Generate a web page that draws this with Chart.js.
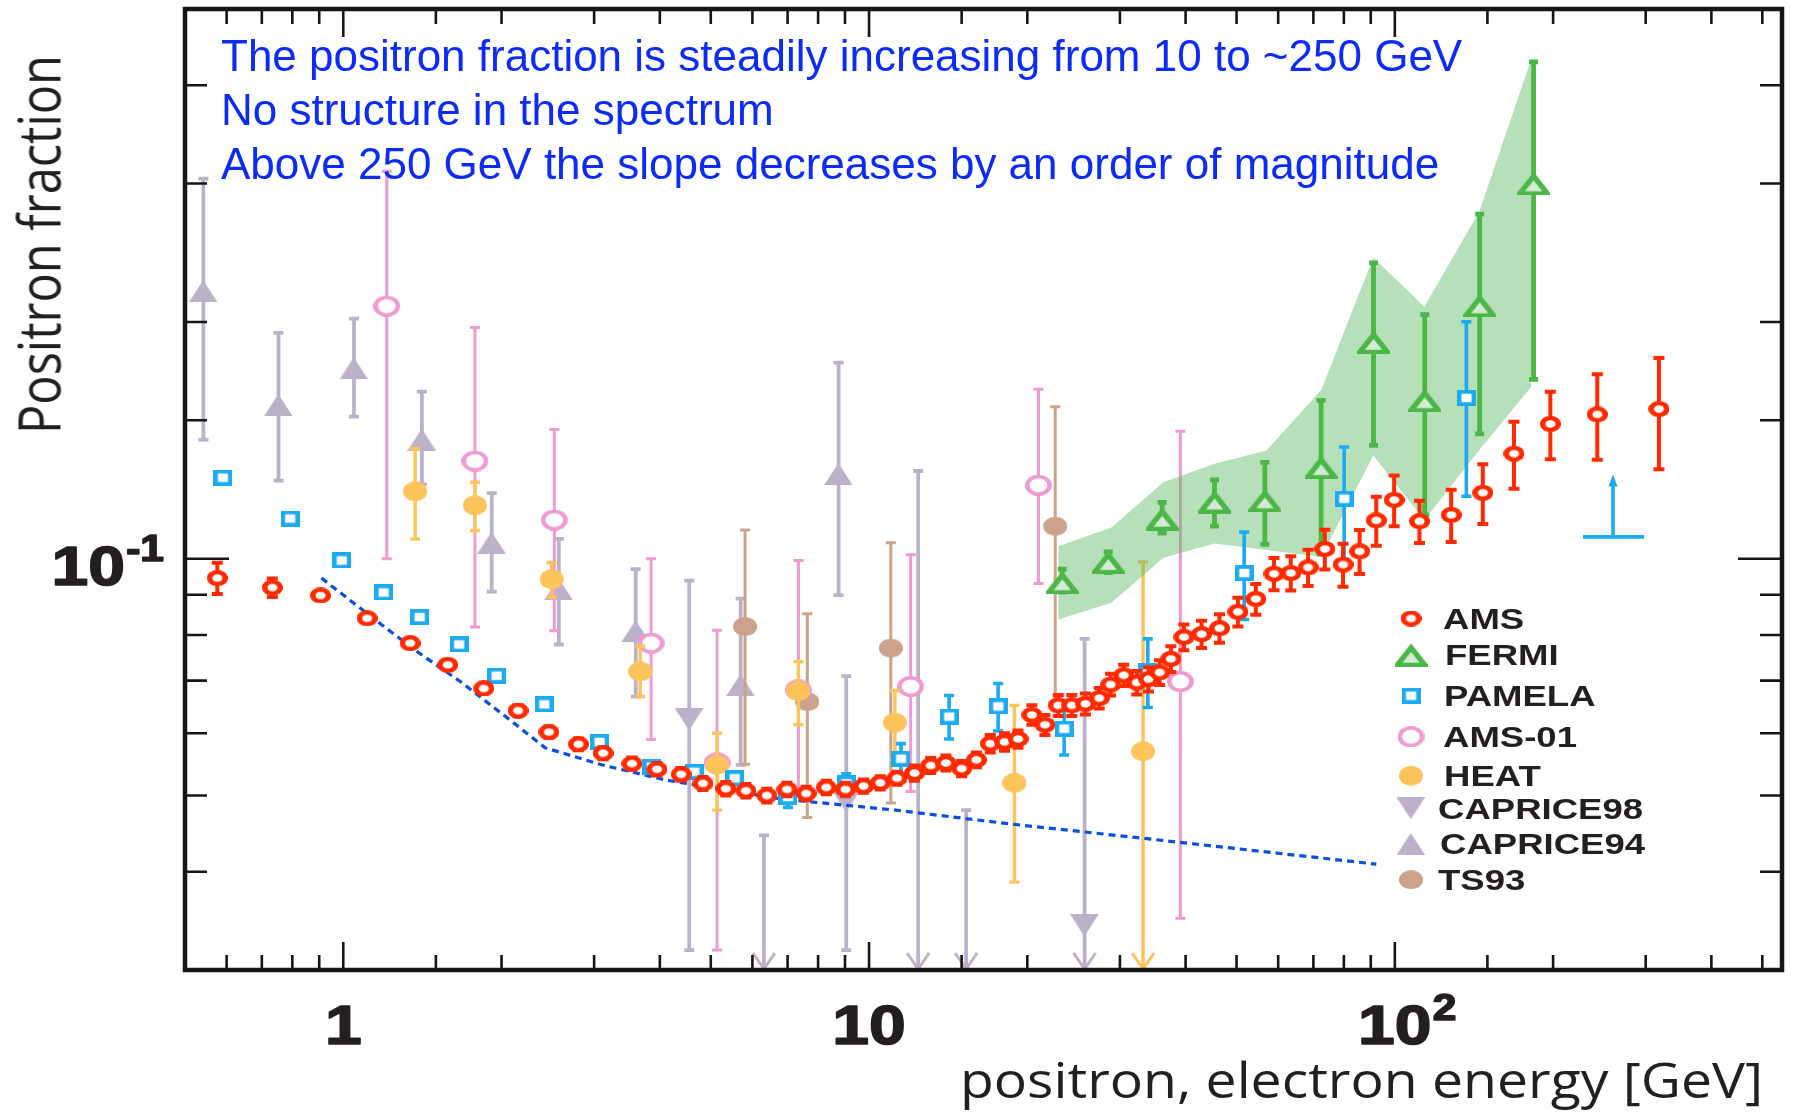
<!DOCTYPE html>
<html>
<head>
<meta charset="utf-8">
<title>Positron fraction</title>
<script src="https://cdn.jsdelivr.net/npm/chart.js@4.4.1/dist/chart.umd.min.js"></script>
<style>
  html, body { margin: 0; padding: 0; background: #fff; }
  #wrap { position: relative; width: 1793px; height: 1114px; overflow: hidden; }
  #chart { position: absolute; left: 0; top: 0; }
  .note { position: absolute; left: 221px; font-family: "Liberation Sans", Arial, sans-serif; font-size: 44px; line-height: 44px; color: #0c2cf6; white-space: nowrap; }
  .axis-title { position: absolute; left: 0; top: 0; font-family: "Open Sans", sans-serif; color: #231f20; white-space: nowrap; line-height: 1; transform-origin: 0 0; }
</style>
</head>
<body>
<div id="wrap">
  <canvas id="chart" width="1793" height="1114"></canvas>
  <div class="note" style="top:34px">The positron fraction is steadily increasing from 10 to ~250 GeV</div>
  <div class="note" style="top:88px">No structure in the spectrum</div>
  <div class="note" style="top:142px">Above 250 GeV the slope decreases by an order of magnitude</div>
  <div id="ytitle" class="axis-title" style="font-size:58px">Positron fraction</div>
  <div id="xtitle" class="axis-title" style="font-size:50px">positron, electron energy [GeV]</div>
</div>
<script>
// energies in GeV, values are the positron fraction
const amsE = [0.576, 0.733, 0.905, 1.11, 1.34, 1.58, 1.85, 2.15, 2.46, 2.80,
              3.12, 3.54, 3.95, 4.39, 4.83, 5.34, 5.83, 6.39, 6.98, 7.59,
              8.29, 9.02, 9.76, 10.5, 11.3, 12.2, 13.1, 14.0, 15.0, 16.0,
              17.0, 18.1, 19.2, 20.4, 21.6, 22.9, 24.3, 25.8, 27.4, 28.8,
              30.5, 32.3, 34.0, 35.7, 37.5, 39.7, 42.9, 46.4, 50.3, 54.4,
              58.9, 63.4, 68.4, 73.6, 79.7, 85.7, 92.2, 99.7, 111.4, 128,
              147, 168.5, 197.6, 242.7, 317.9];
const amsV = [0.0945, 0.0919, 0.0898, 0.0840, 0.0781, 0.0733, 0.0684, 0.0641, 0.0602, 0.0581,
              0.0566, 0.0549, 0.0540, 0.0532, 0.0518, 0.0510, 0.0507, 0.0500, 0.0509, 0.0503,
              0.0512, 0.0509, 0.0514, 0.0519, 0.0526, 0.0534, 0.0546, 0.0550, 0.0541, 0.0555,
              0.0582, 0.0585, 0.0590, 0.0633, 0.0615, 0.0651, 0.0651, 0.0654, 0.0665, 0.0692,
              0.0711, 0.0696, 0.0703, 0.0717, 0.0746, 0.0795, 0.0802, 0.0816, 0.0856, 0.0889,
              0.0957, 0.0959, 0.0975, 0.1029, 0.0983, 0.1022, 0.1119, 0.1188, 0.1116, 0.1137,
              0.1213, 0.136, 0.1484, 0.1526, 0.155];
const amsErr = [0.0043, 0.0025, 0.0012, 0.001, 0.001, 0.001, 0.001, 0.001, 0.001, 0.001,
                0.001, 0.001, 0.001, 0.001, 0.001, 0.001, 0.001, 0.001, 0.001, 0.001,
                0.001, 0.001, 0.001, 0.001, 0.001, 0.0012, 0.0012, 0.0012, 0.0012, 0.0012,
                0.0015, 0.0015, 0.0015, 0.0018, 0.0018, 0.002, 0.002, 0.002, 0.002, 0.0022,
                0.0022, 0.0024, 0.0025, 0.0026, 0.0028, 0.003, 0.0032, 0.0034, 0.0036, 0.004,
                0.0045, 0.0048, 0.0052, 0.006, 0.0062, 0.0066, 0.008, 0.0088, 0.0069, 0.0087,
                0.0106, 0.0133, 0.0146, 0.019, 0.025];

const fermiE  = [23.3, 28.5, 36.1, 45.4, 56.6, 72.4, 91.1, 114, 145, 183.6];
const fermiV  = [0.0933, 0.0990, 0.1124, 0.1182, 0.1186, 0.1307, 0.1886, 0.159, 0.2099, 0.300];
const fermiLo = [0.0907, 0.0960, 0.1078, 0.110, 0.1043, 0.1014, 0.1394, 0.1137, 0.1441, 0.1691];
const fermiHi = [0.0970, 0.1020, 0.1179, 0.126, 0.1326, 0.159, 0.2378, 0.2044, 0.2743, 0.4284];

const bandE  = [22.9, 28.9, 36.3, 45.4, 57.0, 72.5, 91.0, 113.8, 144.8, 181.8];
const bandHi = [0.1037, 0.1096, 0.1251, 0.1321, 0.1373, 0.1640, 0.2415, 0.2091, 0.2764, 0.432];
const bandLo = [0.0837, 0.0879, 0.1003, 0.1046, 0.1026, 0.1006, 0.1353, 0.112, 0.1375, 0.1654];

const pamelaE = [0.590, 0.792, 0.993, 1.193, 1.397, 1.66, 1.956, 2.41, 3.07, 3.86, 4.65,
                 5.55, 7.01, 9.05, 11.5, 14.2, 17.6, 23.5, 33.9, 51.7, 80.1, 136.8];
const pamelaV = [0.1268, 0.1125, 0.0995, 0.0906, 0.0843, 0.0778, 0.0710, 0.0653, 0.0585, 0.0544, 0.0536,
                 0.0526, 0.0498, 0.0518, 0.0557, 0.0630, 0.0649, 0.0608, 0.0719, 0.0959, 0.1192, 0.1601];
const pamelaErr = [0, 0, 0, 0, 0, 0, 0, 0, 0, 0, 0,
                   0.001, 0.0015, 0.0015, 0.0025, 0.004, 0.0045, 0.0045, 0.0072, 0.0122, 0.0195, 0.04];
// lower limit drawn as an arrow, with its energy bin
const pamelaLimE = [260];
const pamelaLimV = [0.1066];
const pamelaLimTop = [0.128];
const pamelaLimEmin = [228];
const pamelaLimEmax = [298];

const ams01E  = [1.21, 1.78, 2.52, 3.85, 5.14, 7.34, 12.0, 21.0, 39.1];
const ams01V  = [0.2095, 0.1331, 0.112, 0.0781, 0.055, 0.0681, 0.0688, 0.124, 0.0698];
const ams01Lo = [0.100, 0.0819, 0.081, 0.0589, 0.0318, 0.0509, 0.0506, 0.093, 0.0349];
const ams01Hi = [0.311, 0.1968, 0.146, 0.1, 0.0811, 0.0995, 0.1012, 0.1643, 0.1453];

// null low end = bar runs down out of the frame
const heatE  = [1.37, 1.78, 2.49, 3.67, 5.14, 7.34, 11.2, 18.9, 33.2];
const heatV  = [0.1218, 0.1169, 0.0942, 0.0719, 0.0547, 0.0679, 0.0619, 0.0519, 0.0569];
const heatLo = [0.1059, 0.1086, 0.0893, 0.0668, 0.0479, 0.0615, 0.0555, 0.0388, null];
const heatHi = [0.1381, 0.1251, 0.0989, 0.0774, 0.060, 0.074, 0.068, 0.0651, 0.0991];

const c98E  = [4.55, 9.05, 25.7];
const c98V  = [0.0625, 0.0492, 0.0342];
const c98Lo = [0.0318, 0.0318, null];
const c98Hi = [0.0938, 0.0709, 0.0791];
const c98LimE  = [6.31, 12.4, 15.3];
const c98LimHi = [0.0445, 0.1293, 0.0479];

const c94E  = [0.542, 0.753, 1.048, 1.411, 1.916, 2.57, 3.6, 5.70, 8.75];
const c94V  = [0.2189, 0.1568, 0.1746, 0.1417, 0.1048, 0.0915, 0.0809, 0.0691, 0.1281];
const c94Lo = [0.1417, 0.1257, 0.1516, 0.1243, 0.0908, 0.0778, 0.0668, 0.0547, 0.0899];
const c94Hi = [0.3043, 0.1937, 0.202, 0.1631, 0.1212, 0.106, 0.097, 0.089, 0.1776];

const ts93E  = [5.81, 7.63, 11.0, 22.6];
const ts93V  = [0.082, 0.0658, 0.077, 0.11];
const ts93Lo = [0.0548, 0.0469, 0.0489, 0.0655];
const ts93Hi = [0.1088, 0.0851, 0.1048, 0.156];

// blue dashed curve
const secE = [0.909, 1.12, 1.37, 1.67, 2.08, 2.42, 3.10, 4.12, 6.81, 11.25, 18.6, 34.4, 92.2];
const secV = [0.0945, 0.0848, 0.0765, 0.0698, 0.0623, 0.0575, 0.0547, 0.0523, 0.0495, 0.0479, 0.0460, 0.0440, 0.0409];

const xTickVals = [1, 10, 100];
const xTickText = ['1', '10', '10'];
const xTickSup  = ['', '', '2'];
const yTickVals = [0.1];
const yTickText = ['10'];
const yTickSup  = ['-1'];

const pts = (xs, ys) => xs.map((x, i) => ({ x: x, y: ys[i] }));

// point markers are drawn a bit wider than tall, like the original figure
function sprite(shape, size, stretch, lw, stroke, fill) {
    const c = document.createElement('canvas');
    c.width = Math.round(size * stretch);
    c.height = size;
    const g = c.getContext('2d');
    g.scale(stretch, 1);
    g.lineWidth = lw;
    const m = stroke ? lw / 2 : 0;
    const s = size;
    g.beginPath();
    if (shape === 'circle') g.ellipse(s / 2, s / 2, s / 2 - m, s / 2 - m, 0, 0, Math.PI * 2);
    if (shape === 'square') g.rect(m, m, s - 2 * m, s - 2 * m);
    if (shape === 'up') { g.moveTo(s / 2, m * 2.2); g.lineTo(s - m, s - m); g.lineTo(m, s - m); g.closePath(); }
    if (shape === 'down') { g.moveTo(m, m); g.lineTo(s - m, m); g.lineTo(s / 2, s - m * 2.2); g.closePath(); }
    if (fill) { g.fillStyle = fill; g.fill(); }
    if (stroke) { g.strokeStyle = stroke; g.stroke(); }
    return c;
}

const RED = '#ff2a00', GREEN = '#4cb748', BLUE = '#1caaf0', PINK = '#ef9ad0';
const ORANGE = '#fcc45a', GREY = '#bbb2ca', TAN = '#caa38a';

const marks = {
    ams: sprite('circle', 16, 1.32, 4.2, RED, '#fff'),
    fermi: sprite('up', 24, 1.38, 4.2, GREEN, '#d3ecd5'),
    pamela: sprite('square', 16, 1.2, 3.8, BLUE, '#fff'),
    ams01: sprite('circle', 21, 1.28, 3.6, PINK, '#fff'),
    heat: sprite('circle', 20, 1.2, 0, null, ORANGE),
    c98: sprite('down', 22, 1.3, 0, null, GREY),
    c94: sprite('up', 22, 1.3, 0, null, GREY),
    ts93: sprite('circle', 19, 1.27, 0, null, TAN)
};

function chevron(ctx, x, yb, color) {
    ctx.save();
    ctx.strokeStyle = color;
    ctx.lineWidth = 3;
    ctx.beginPath();
    ctx.moveTo(x - 11, yb - 17);
    ctx.lineTo(x, yb - 1);
    ctx.lineTo(x + 11, yb - 17);
    ctx.stroke();
    ctx.restore();
}

// vertical error bars, drawn just below each dataset's own markers
const errorBars = {
    id: 'errorBars',
    beforeDatasetDraw(chart, args) {
        const ds = chart.data.datasets[args.index];
        if (!ds.errHi) return;
        const { ctx, chartArea: a, scales: { x, y } } = chart;
        ctx.save();
        ctx.beginPath();
        ctx.rect(a.left, a.top, a.right - a.left, a.bottom - a.top);
        ctx.clip();
        ctx.strokeStyle = ds.barColor;
        ctx.lineWidth = ds.barWidth;
        const c = ds.capWidth / 2;
        ds.data.forEach((p, i) => {
            const px = x.getPixelForValue(p.x);
            const top = y.getPixelForValue(ds.errHi[i]);
            const open = ds.errLo[i] === null;
            const bot = open ? a.bottom : y.getPixelForValue(ds.errLo[i]);
            if (bot - top < 1) return;
            ctx.beginPath();
            ctx.moveTo(px, top); ctx.lineTo(px, bot);
            ctx.moveTo(px - c, top); ctx.lineTo(px + c, top);
            if (!open) { ctx.moveTo(px - c, bot); ctx.lineTo(px + c, bot); }
            ctx.stroke();
            if (open) chevron(ctx, px, a.bottom, ds.barColor);
        });
        (ds.limE || []).forEach((e, i) => {
            const px = x.getPixelForValue(e);
            const top = y.getPixelForValue(ds.limHi[i]);
            ctx.beginPath();
            ctx.moveTo(px, top); ctx.lineTo(px, a.bottom);
            ctx.moveTo(px - c, top); ctx.lineTo(px + c, top);
            ctx.stroke();
            chevron(ctx, px, a.bottom, ds.barColor);
        });
        (ds.lowLimE || []).forEach((e, i) => {
            const px = x.getPixelForValue(e);
            const base = y.getPixelForValue(ds.lowLimV[i]);
            const tip = y.getPixelForValue(ds.lowLimTop[i]);
            ctx.beginPath();
            ctx.moveTo(x.getPixelForValue(ds.lowLimEmin[i]), base);
            ctx.lineTo(x.getPixelForValue(ds.lowLimEmax[i]), base);
            ctx.moveTo(px, base); ctx.lineTo(px, tip + 10);
            ctx.stroke();
            ctx.fillStyle = ds.barColor;
            ctx.beginPath();
            ctx.moveTo(px, tip); ctx.lineTo(px + 4.5, tip + 12); ctx.lineTo(px - 4.5, tip + 12);
            ctx.closePath(); ctx.fill();
        });
        ctx.restore();
    }
};

const isDecade = v => Math.abs(Math.log10(v) - Math.round(Math.log10(v))) < 1e-6;
const LABEL_FONT = '"Liberation Sans", Arial, sans-serif';

function tickLabel(ctx, x, baseline, text, sup, align) {
    const k = 1.18;
    ctx.font = 'bold 56px ' + LABEL_FONT;
    const w = ctx.measureText(text).width;
    ctx.font = 'bold 36px ' + LABEL_FONT;
    const ws = sup ? ctx.measureText(sup).width + 1 : 0;
    const left = align === 'center' ? x - w * k / 2 : x - (w + ws) * k;
    ctx.save();
    ctx.translate(left, baseline);
    ctx.scale(k, 1);
    ctx.textAlign = 'left';
    ctx.textBaseline = 'alphabetic';
    ctx.strokeStyle = ctx.fillStyle;
    ctx.lineWidth = 1.6;
    ctx.lineJoin = 'round';
    ctx.font = 'bold 56px ' + LABEL_FONT;
    ctx.fillText(text, 0, 0);
    ctx.strokeText(text, 0, 0);
    if (sup) {
        ctx.font = 'bold 36px ' + LABEL_FONT;
        ctx.fillText(sup, w + 1, -24);
        ctx.strokeText(sup, w + 1, -24);
    }
    ctx.restore();
}

// frame with inward ticks on all four sides, plus the tick labels
const frame = {
    id: 'frame',
    afterDatasetsDraw(chart) {
        const { ctx, chartArea: a, scales: { x, y } } = chart;
        ctx.save();
        ctx.strokeStyle = '#151515';
        ctx.lineWidth = 2.6;
        ctx.beginPath();
        x.ticks.forEach(t => {
            const px = x.getPixelForValue(t.value);
            if (px < a.left + 8 || px > a.right - 12) return;
            const len = isDecade(t.value) ? 28 : 15;
            ctx.moveTo(px, a.bottom); ctx.lineTo(px, a.bottom - len);
            ctx.moveTo(px, a.top); ctx.lineTo(px, a.top + len);
        });
        y.ticks.forEach(t => {
            const py = y.getPixelForValue(t.value);
            if (py < a.top + 8 || py > a.bottom - 8) return;
            const len = isDecade(t.value) ? 44 : 22;
            ctx.moveTo(a.left, py); ctx.lineTo(a.left + len, py);
            ctx.moveTo(a.right, py); ctx.lineTo(a.right - len, py);
        });
        ctx.stroke();
        ctx.lineWidth = 4.5;
        ctx.strokeRect(a.left, a.top, a.right - a.left, a.bottom - a.top);
        ctx.fillStyle = '#231f20';
        xTickVals.forEach((v, i) => tickLabel(ctx, x.getPixelForValue(v), a.bottom + 74, xTickText[i], xTickSup[i], 'center'));
        yTickVals.forEach((v, i) => tickLabel(ctx, a.left - 21, y.getPixelForValue(v) + 26, yTickText[i], yTickSup[i], 'right'));
        ctx.restore();
    }
};

// legend box inside the plot, lower right
const inlineLegend = {
    id: 'inlineLegend',
    afterDatasetsDraw(chart, args, opts) {
        const ctx = chart.ctx;
        ctx.save();
        ctx.fillStyle = '#231f20';
        ctx.textBaseline = 'alphabetic';
        ctx.font = 'bold 29px ' + LABEL_FONT;
        opts.rowY.forEach((ry, i) => {
            const ds = chart.data.datasets[i];
            const m = ds.pointStyle;
            ctx.drawImage(m, opts.markerX - m.width / 2, ry - m.height / 2);
            ctx.save();
            ctx.translate(opts.textX[i], ry + 10.4);
            ctx.scale(1.26, 1);
            ctx.fillText(ds.label, 0, 0);
            ctx.restore();
        });
        ctx.restore();
    }
};

const series = (label, xs, ys, lo, hi, mark, color, width, cap, order) => ({
    label: label, data: pts(xs, ys), errLo: lo, errHi: hi,
    pointStyle: mark, pointRadius: 8, order: order,
    barColor: color, barWidth: width, capWidth: cap
});

const datasets = [
    series('AMS', amsE, amsV, amsV.map((v, i) => v - amsErr[i]), amsV.map((v, i) => v + amsErr[i]), marks.ams, RED, 4, 11, 1),
    series('FERMI', fermiE, fermiV, fermiLo, fermiHi, marks.fermi, GREEN, 4.8, 9, 3),
    series('PAMELA', pamelaE, pamelaV, pamelaV.map((v, i) => v - pamelaErr[i]), pamelaV.map((v, i) => v + pamelaErr[i]), marks.pamela, BLUE, 3.6, 10, 2),
    series('AMS-01', ams01E, ams01V, ams01Lo, ams01Hi, marks.ams01, PINK, 3, 10, 7),
    series('HEAT', heatE, heatV, heatLo, heatHi, marks.heat, ORANGE, 3.4, 10, 6),
    series('CAPRICE98', c98E, c98V, c98Lo, c98Hi, marks.c98, GREY, 3.8, 10, 10),
    series('CAPRICE94', c94E, c94V, c94Lo, c94Hi, marks.c94, GREY, 3.8, 10, 9),
    series('TS93', ts93E, ts93V, ts93Lo, ts93Hi, marks.ts93, TAN, 3, 10, 8),
    { type: 'line', label: 'FERMI band upper', data: pts(bandE, bandHi), borderWidth: 0, pointRadius: 0, fill: false, order: 5 },
    { type: 'line', label: 'FERMI band', data: pts(bandE, bandLo), borderWidth: 0, pointRadius: 0, fill: '-1',
      backgroundColor: 'rgba(80, 180, 90, 0.42)', order: 5 },
    { type: 'line', label: 'secondary', data: pts(secE, secV), borderColor: '#0a50dc', borderWidth: 3.2,
      borderDash: [7, 5], pointRadius: 0, fill: false, order: 4 }
];
datasets[5].limE = c98LimE;
datasets[5].limHi = c98LimHi;
datasets[2].lowLimE = pamelaLimE;
datasets[2].lowLimV = pamelaLimV;
datasets[2].lowLimTop = pamelaLimTop;
datasets[2].lowLimEmin = pamelaLimEmin;
datasets[2].lowLimEmax = pamelaLimEmax;

new Chart(document.getElementById('chart'), {
    type: 'scatter',
    data: { datasets: datasets },
    options: {
        responsive: false,
        animation: false,
        devicePixelRatio: 1,
        events: [],
        layout: { padding: { top: 4, right: 11, left: 0, bottom: 0 } },
        plugins: {
            legend: { display: false },
            tooltip: { enabled: false },
            inlineLegend: {
                markerX: 1411,
                textX: [1443, 1445, 1444, 1443, 1444, 1438, 1440, 1438],
                rowY: [618.5, 655, 695.8, 736.7, 775.8, 808.2, 844, 879.7]
            }
        },
        scales: {
            x: {
                type: 'logarithmic', min: 0.5, max: 545,
                grid: { display: false }, border: { display: false },
                ticks: { display: false },
                afterFit: s => { s.height = 144; }
            },
            y: {
                type: 'logarithmic', min: 0.03, max: 0.5,
                grid: { display: false }, border: { display: false },
                ticks: { display: false },
                afterFit: s => { s.width = 185; }
            }
        }
    },
    plugins: [errorBars, frame, inlineLegend]
});

// axis titles: stretch to the length they have in the figure
const yt = document.getElementById('ytitle');
const ySx = 379 / yt.offsetWidth;
yt.style.transform = 'translate(' + (61 - 0.888 * 58) + 'px, 434px) rotate(-90deg) scaleX(' + ySx + ')';
const xt = document.getElementById('xtitle');
const xSx = 803 / xt.offsetWidth;
xt.style.transform = 'translate(960px, ' + (1098 - 0.888 * 50) + 'px) scaleX(' + xSx + ')';
</script>
</body>
</html>
